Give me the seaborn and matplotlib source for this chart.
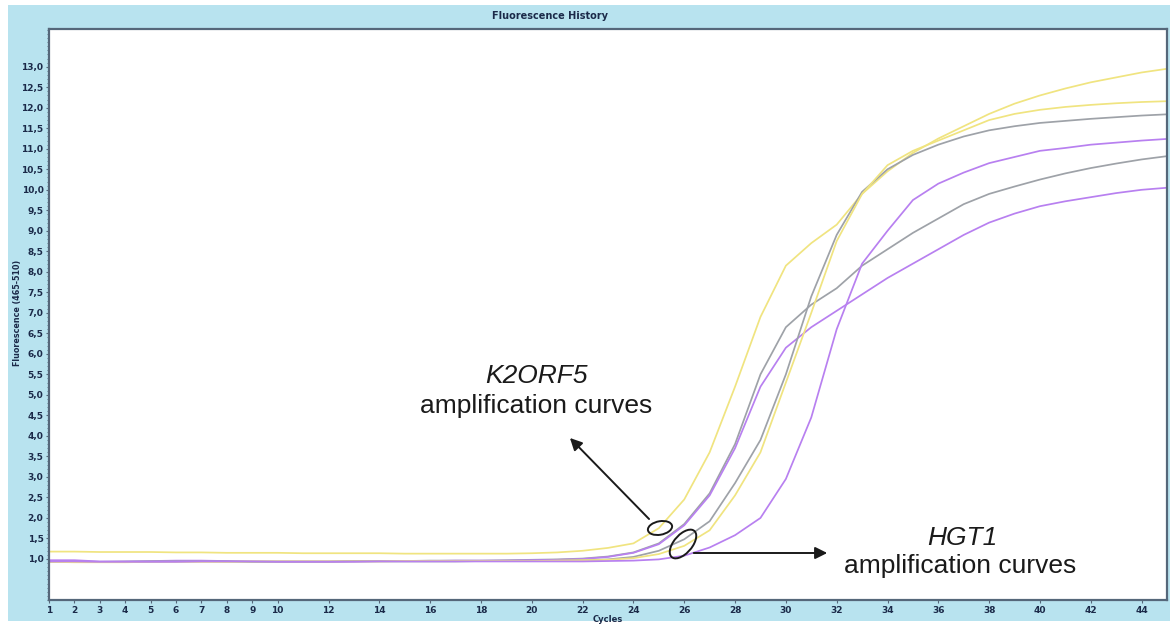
import pandas as pd
import numpy as np
import seaborn as sns
import matplotlib.pyplot as plt
from matplotlib.patches import Ellipse, Rectangle, FancyArrowPatch
from matplotlib.ticker import FuncFormatter, MultipleLocator

cycles = list(range(1, 46))

yellow_a = [1.18, 1.18, 1.17, 1.17, 1.17, 1.16, 1.16, 1.15, 1.15, 1.15,
            1.14, 1.14, 1.14, 1.14, 1.13, 1.13, 1.13, 1.13, 1.13, 1.14,
            1.16, 1.20, 1.27, 1.38, 1.75, 2.45, 3.60, 5.20, 6.90, 8.15,
            8.70, 9.15, 9.90, 10.45, 10.90, 11.25, 11.55, 11.85, 12.10, 12.30,
            12.47, 12.62, 12.74, 12.86, 12.95]
gray_a = [0.95, 0.94, 0.93, 0.94, 0.94, 0.95, 0.95, 0.94, 0.94, 0.94,
          0.94, 0.94, 0.95, 0.95, 0.95, 0.96, 0.96, 0.96, 0.97, 0.98,
          0.99, 1.01, 1.06, 1.16, 1.38, 1.85, 2.60, 3.80, 5.50, 6.65,
          7.20, 7.60, 8.15, 8.55, 8.95, 9.30, 9.65, 9.90, 10.08, 10.25,
          10.40, 10.53, 10.64, 10.74, 10.82]
purple_a = [0.97, 0.97, 0.94, 0.94, 0.95, 0.96, 0.96, 0.95, 0.94, 0.94,
            0.94, 0.94, 0.95, 0.95, 0.95, 0.95, 0.96, 0.96, 0.96, 0.97,
            0.98, 1.00, 1.05, 1.15, 1.36, 1.82, 2.55, 3.70, 5.20, 6.15,
            6.65, 7.05, 7.45, 7.85, 8.20, 8.55, 8.90, 9.20, 9.42, 9.60,
            9.72, 9.82, 9.92, 10.00, 10.05]
gray_b = [0.93, 0.93, 0.93, 0.93, 0.94, 0.94, 0.94, 0.94, 0.93, 0.93,
          0.93, 0.93, 0.94, 0.94, 0.94, 0.94, 0.94, 0.95, 0.95, 0.95,
          0.96, 0.97, 0.99, 1.05, 1.20, 1.48, 1.92, 2.85, 3.90, 5.50,
          7.40, 8.90, 9.95, 10.50, 10.85, 11.10, 11.30, 11.45, 11.55, 11.63,
          11.68, 11.73, 11.77, 11.81, 11.84]
yellow_b = [0.93, 0.92, 0.92, 0.92, 0.93, 0.93, 0.93, 0.93, 0.94, 0.94,
            0.94, 0.94, 0.94, 0.94, 0.95, 0.95, 0.95, 0.95, 0.95, 0.95,
            0.96, 0.97, 0.98, 1.02, 1.12, 1.32, 1.70, 2.55, 3.60, 5.30,
            7.00, 8.75, 9.90, 10.60, 10.95, 11.20, 11.45, 11.70, 11.85, 11.95,
            12.02, 12.07, 12.11, 12.14, 12.16]
purple_b = [0.94, 0.94, 0.93, 0.93, 0.93, 0.93, 0.94, 0.94, 0.94, 0.93,
            0.93, 0.93, 0.93, 0.94, 0.94, 0.94, 0.94, 0.94, 0.94, 0.94,
            0.94, 0.94, 0.95, 0.96, 0.99, 1.08, 1.28, 1.58, 2.00, 2.95,
            4.45, 6.60, 8.20, 9.00, 9.75, 10.15, 10.42, 10.65, 10.80, 10.95,
            11.02, 11.10, 11.15, 11.20, 11.24]

x_ticks = [1, 2, 3, 4, 5, 6, 7, 8, 9, 10] + list(range(12, 45, 2))

curves = {"yellow_a": yellow_a, "gray_a": gray_a, "purple_a": purple_a,
          "gray_b": gray_b, "yellow_b": yellow_b, "purple_b": purple_b}
palette = {"yellow_a": "#f0e480", "yellow_b": "#f0e480",
           "gray_a": "#9ea2a8", "gray_b": "#9ea2a8",
           "purple_a": "#b880f0", "purple_b": "#b880f0"}

df = pd.concat([pd.DataFrame({"cycle": cycles, "fluorescence": v, "curve": k})
                for k, v in curves.items()], ignore_index=True)

BG = "#b8e3ef"
NAVY = "#1b2a49"
EDGE = "#55677a"

fig = plt.figure(figsize=(11.76, 6.26), dpi=100)
fig.patch.set_facecolor("white")
fig.patches.append(Rectangle((8 / 1176, 5 / 626), 1162 / 1176, 616 / 626,
                             transform=fig.transFigure, facecolor=BG,
                             edgecolor="none", zorder=-1))
ax = fig.add_axes([49 / 1176, 1 - 600 / 626, 1118 / 1176, 571 / 626])
ax.set_facecolor("white")

sns.lineplot(data=df, x="cycle", y="fluorescence", hue="curve",
             palette=palette, legend=False, lw=1.25, ax=ax)

ax.set_xlim(1, 45)
ax.set_ylim(0, 13.92)
ax.set_xticks(x_ticks)
ax.yaxis.set_minor_locator(MultipleLocator(0.1))
ax.set_yticks(np.arange(1.0, 13.01, 0.5))
ax.yaxis.set_major_formatter(FuncFormatter(lambda v, p: f"{v:.1f}".replace(".", ",")))
ax.tick_params(axis="both", labelsize=6.5, labelcolor=NAVY, color=EDGE,
               length=2, width=0.8, pad=2)
ax.tick_params(axis="y", which="minor", length=1.2, color=EDGE)
for lab in ax.get_xticklabels() + ax.get_yticklabels():
    lab.set_fontweight("bold")
for s in ax.spines.values():
    s.set_color(EDGE)
    s.set_linewidth(1.6)

ax.set_xlabel("")
ax.set_ylabel("")
fig.text(608 / 1176, 1 - 620 / 626, "Cycles", ha="center", va="center",
         fontsize=6, fontweight="bold", color=NAVY)
fig.text(18 / 1176, 1 - 313 / 626, "Fluorescence (465-510)", ha="center",
         va="center", rotation=90, fontsize=5.8, fontweight="bold", color=NAVY)
fig.text(550 / 1176, 1 - 16 / 626, "Fluorescence History", ha="center",
         va="center", fontsize=7, fontweight="bold", color=NAVY)

# annotations
ann = dict(fontsize=19, family=["Liberation Sans", "DejaVu Sans"], color="#1a1a1a",
           ha="center", va="center", zorder=6)
fig.text(536 / 1176, 1 - 376 / 626, "K2ORF5", style="italic", **ann)
fig.text(536 / 1176, 1 - 406 / 626, "amplification curves", **ann)
fig.text(962 / 1176, 1 - 538 / 626, "HGT1", style="italic", **ann)
fig.text(960 / 1176, 1 - 566 / 626, "amplification curves", **ann)

px = lambda x, y: (x / 1176, 1 - y / 626)
fig.patches.append(Ellipse(px(660, 528), 22 / 1176, 15 / 626, angle=-35,
                           transform=fig.transFigure, fill=False,
                           edgecolor="#1a1a1a", lw=1.4, zorder=5))
fig.patches.append(Ellipse(px(683, 544), 21 / 1176, 30 / 626, angle=-18,
                           transform=fig.transFigure, fill=False,
                           edgecolor="#1a1a1a", lw=1.4, zorder=5))
arrow = dict(arrowstyle="-|>", color="#1a1a1a", lw=1.4, mutation_scale=18, zorder=5)
fig.add_artist(FancyArrowPatch(px(651, 521), px(568, 436),
                               transform=fig.transFigure, **arrow))
fig.add_artist(FancyArrowPatch(px(691, 553), px(830, 553),
                               transform=fig.transFigure, **arrow))

fig.savefig("out.png", dpi=100, facecolor=fig.get_facecolor())
